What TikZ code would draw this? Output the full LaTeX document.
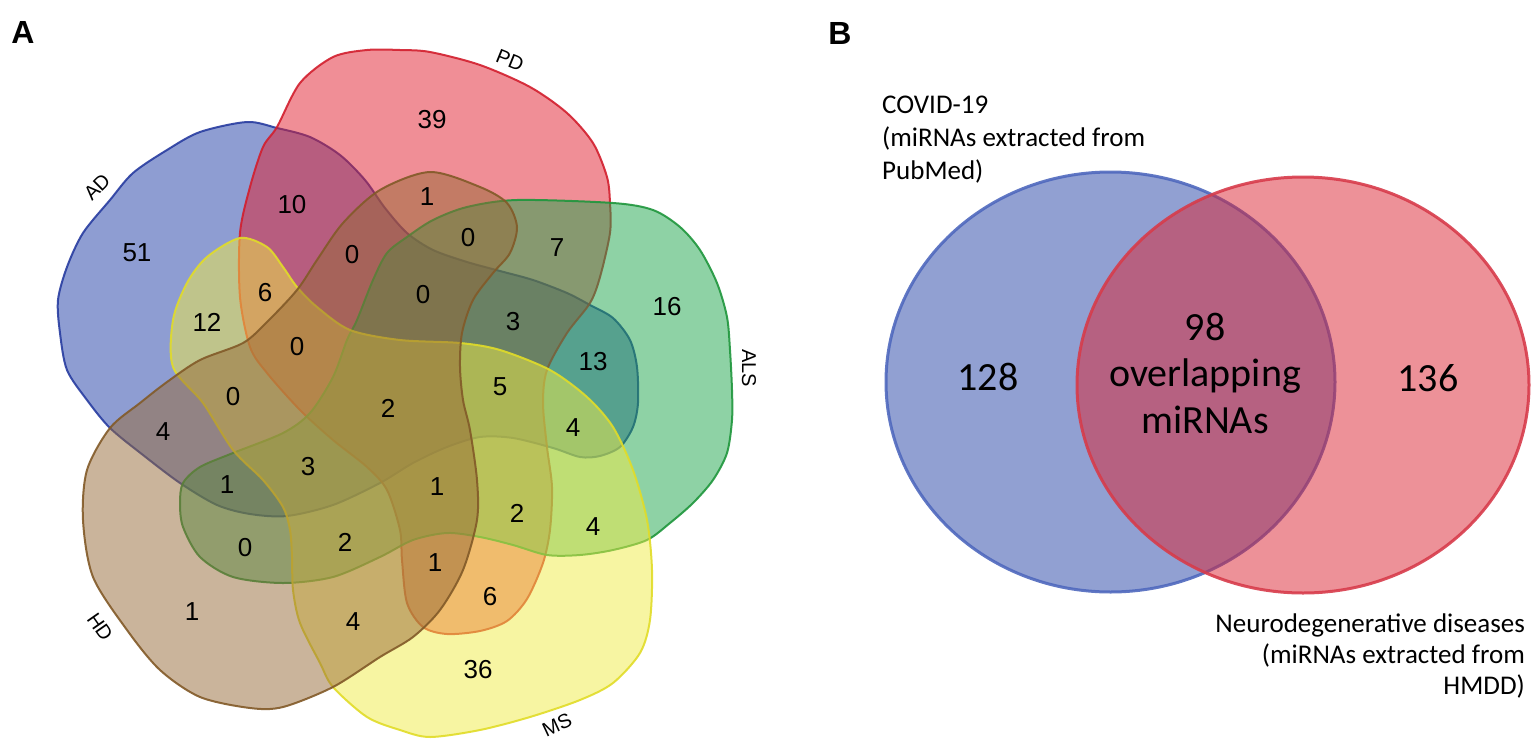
\documentclass[tikz,border=0pt]{standalone}
\usepackage{fontspec}
\setmainfont{Liberation Sans}
\newfontfamily\carl{Carlito}
\definecolor{adF}{RGB}{30,60,165}
\definecolor{adL}{RGB}{40,60,160}
\definecolor{pdF}{RGB}{225,30,45}
\definecolor{pdL}{RGB}{210,30,45}
\definecolor{alsF}{RGB}{30,165,75}
\definecolor{alsL}{RGB}{30,150,60}
\definecolor{msF}{RGB}{240,235,70}
\definecolor{msL}{RGB}{225,220,40}
\definecolor{hdF}{RGB}{150,105,55}
\definecolor{hdL}{RGB}{130,90,40}
\definecolor{cvF}{RGB}{35,65,165}
\definecolor{cvL}{RGB}{80,105,190}
\definecolor{ndF}{RGB}{220,35,50}
\definecolor{ndL}{RGB}{215,60,75}
\tikzset{
  num/.style={font=\fontsize{26}{30}\selectfont, inner sep=0pt},
  setlab/.style={font=\fontsize{20}{24}\selectfont, inner sep=0pt},
  panel/.style={font=\fontsize{32}{36}\selectfont\bfseries, inner sep=0pt},
  btext/.style={font=\carl\fontsize{27}{32}\selectfont, inner sep=0pt},
  bbig/.style={font=\carl\fontsize{40}{46}\selectfont, inner sep=0pt},
  setshape/.style={line width=2pt, fill opacity=0.5, draw opacity=0.9},
  bshape/.style={line width=3pt, fill opacity=0.5, draw opacity=0.9},
}
\begin{document}
\begin{tikzpicture}[x=1pt,y=-1pt]
\useasboundingbox (0,0) rectangle (1537,750);
% ---------- Panel A ----------
\node[panel] (pA) at (23,32) {A};
% AD
\draw[setshape, draw=adL, fill=adF] plot[smooth cycle] coordinates {
(247,122) (277,128) (310,137) (340,155) (365,180) (385,208) (407,233) (433,250)
(467,262) (500,271) (533,280) (567,293) (590,305) (613,318) (630,340) (637,367)
(638,403) (633,427) (620,447) (600,456) (580,457) (553,448) (513,438) (480,437)
(447,447) (413,463) (380,483) (333,505) (287,516) (250,514) (217,505) (180,483)
(143,455) (110,428) (87,400) (67,370) (60,333) (58,300) (67,267) (83,233)
(110,200) (133,173) (167,150) (200,132)};
% PD
\draw[setshape, draw=pdL, fill=pdF] plot[smooth cycle] coordinates {
(240,233) (240,297) (250,347) (267,373) (300,410) (333,440) (367,467) (387,490)
(400,530) (402,560) (407,603) (423,627) (447,634) (480,631) (507,621) (527,599)
(543,563) (550,530) (552,487) (547,447) (543,403) (547,370) (567,333) (590,303)
(600,277) (610,233) (610,203) (607,177) (593,143) (567,113) (530,87) (480,65)
(430,52) (400,50) (367,50) (333,57) (300,83) (277,127) (263,147) (250,187)};
% ALS
\draw[setshape, draw=alsL, fill=alsF] plot[smooth cycle] coordinates {
(183,483) (200,467) (233,453) (283,433) (310,413) (333,377) (347,340) (357,320)
(373,280) (387,253) (407,237) (433,220) (467,207) (517,200) (613,203) (653,210)
(680,227) (700,250) (717,283) (727,317) (730,350) (732,390) (732,420) (727,453)
(713,480) (693,503) (670,523) (647,540) (613,550) (580,555) (547,555) (513,545)
(480,537) (447,533) (413,540) (380,557) (333,577) (283,583) (233,577) (200,557)
(183,527) (180,503)};
% MS
\draw[setshape, draw=msL, fill=msF] plot[smooth cycle] coordinates {
(173,367) (173,320) (187,283) (207,257) (240,238) (267,247) (283,267) (297,287)
(317,307) (350,330) (400,340) (460,343) (500,350) (550,370) (587,397) (613,427)
(633,470) (647,520) (652,570) (650,620) (640,653) (613,683) (580,700) (530,717)
(480,730) (430,737) (400,730) (367,717) (333,687) (320,663) (300,623) (293,590)
(292,557) (290,530) (283,507) (263,480) (233,450) (203,403)};
% HD
\draw[setshape, draw=hdL, fill=hdF] plot[smooth cycle] coordinates {
(380,190) (430,172) (480,187) (507,203) (517,227) (510,253) (493,273) (473,300)
(462,333) (460,367) (463,400) (470,430) (477,480) (477,520) (463,570) (440,610)
(413,637) (380,657) (333,687) (283,707) (250,708) (200,697) (160,670) (127,630)
(93,577) (83,520) (87,470) (110,428) (140,403) (167,382) (200,360) (243,343)
(267,322) (297,290) (317,260) (343,223)};
% set labels
\node[setlab, rotate=45] (lAD) at (97,187) {AD};
\node[setlab, rotate=-22] (lPD) at (510,60) {PD};
\node[setlab, rotate=-90] (lALS) at (749,368) {ALS};
\node[setlab, rotate=25] (lMS) at (557,725) {MS};
\node[setlab, rotate=-55] (lHD) at (100,627) {HD};
% counts
\node[num] (c1) at (137,253) {51};
\node[num] (c2) at (292,205) {10};
\node[num] (c3) at (207,322) {12};
\node[num] (c4) at (265,293) {6};
\node[num] (c5) at (297,347) {0};
\node[num] (c6) at (352,255) {0};
\node[num] (c7) at (432,120) {39};
\node[num] (c8) at (427,197) {1};
\node[num] (c9) at (468,238) {0};
\node[num] (c10) at (557,248) {7};
\node[num] (c11) at (423,295) {0};
\node[num] (c12) at (513,322) {3};
\node[num] (c13) at (667,307) {16};
\node[num] (c14) at (593,362) {13};
\node[num] (c15) at (233,397) {0};
\node[num] (c16) at (163,432) {4};
\node[num] (c17) at (388,408) {2};
\node[num] (c18) at (500,387) {5};
\node[num] (c19) at (573,428) {4};
\node[num] (c20) at (227,485) {1};
\node[num] (c21) at (308,467) {3};
\node[num] (c22) at (437,487) {1};
\node[num] (c23) at (517,513) {2};
\node[num] (c24) at (593,527) {4};
\node[num] (c25) at (245,548) {0};
\node[num] (c26) at (345,542) {2};
\node[num] (c27) at (435,563) {1};
\node[num] (c28) at (490,597) {6};
\node[num] (c29) at (192,612) {1};
\node[num] (c30) at (353,622) {4};
\node[num] (c31) at (478,670) {36};
% ---------- Panel B ----------
\node[panel] (pB) at (840,33) {B};
\draw[bshape, draw=cvL, fill=cvF] (1110.5,382) ellipse [x radius=224.5, y radius=210];
\draw[bshape, draw=ndL, fill=ndF] (1303,385) ellipse [x radius=226, y radius=208];
\node[btext, anchor=base west] (cv1) at (882,113) {COVID-19};
\node[btext, anchor=base west] (cv2) at (882,146) {(miRNAs extracted from};
\node[btext, anchor=base west] (cv3) at (882,179) {PubMed)};
\node[btext, anchor=base east] (nd1) at (1525,632) {Neurodegenerative diseases};
\node[btext, anchor=base east] (nd2) at (1525,663) {(miRNAs extracted from};
\node[btext, anchor=base east] (nd3) at (1525,694) {HMDD)};
\node[bbig, anchor=base] (b128) at (988,390) {128};
\node[bbig, anchor=base] (b136) at (1428,391) {136};
\node[bbig, anchor=base] (b98) at (1205,340) {98};
\node[bbig, anchor=base] (bov) at (1205,386) {overlapping};
\node[bbig, anchor=base] (bmi) at (1205,433) {miRNAs};
\end{tikzpicture}
\end{document}
